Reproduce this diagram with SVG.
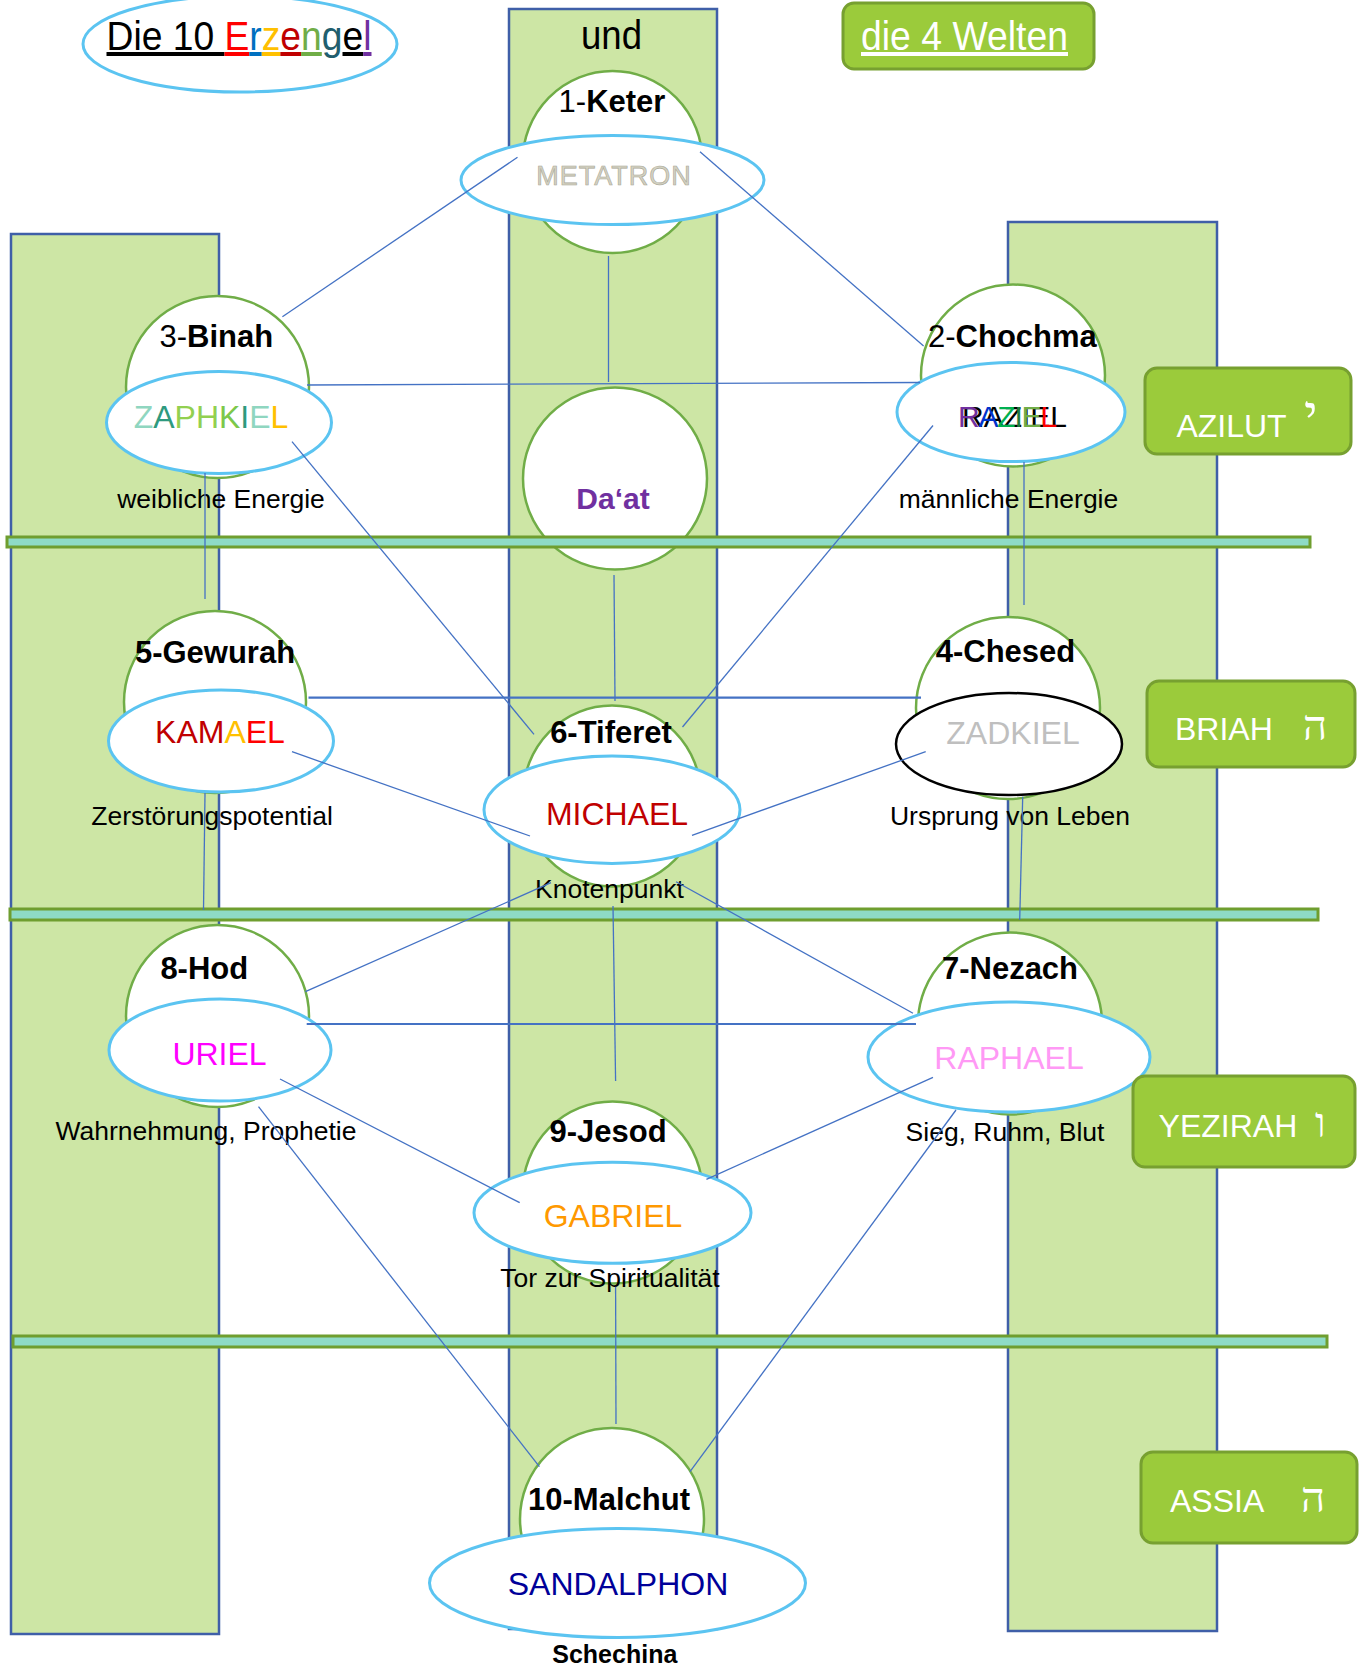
<svg xmlns="http://www.w3.org/2000/svg" width="1364" height="1669" viewBox="0 0 1364 1669">
<style>
text{font-family:"Liberation Sans",Arial,sans-serif}
.col{fill:#CDE6A5;stroke:#3F5FA8;stroke-width:2.5}
.bar{fill:#8EDBC6;stroke:#6F9E2F;stroke-width:3}
.sef{fill:#fff;stroke:#70AD47;stroke-width:2.5}
.ang{fill:#fff;stroke:#5BC4F1;stroke-width:3}
.world{fill:#9BCB3B;stroke:#77A030;stroke-width:3}
.wt{fill:#fff;font-size:32px}
.heb{fill:#fff;font-size:42px;font-family:"Liberation Serif","DejaVu Serif",serif}
.sn{font-size:31px;fill:#000;text-anchor:middle}
.b{font-weight:bold}
.an{font-size:32px;text-anchor:middle}
.d{font-size:26.5px;fill:#000;text-anchor:middle}
.ln{stroke:#4472C4;stroke-width:1.3;fill:none}
.lnt{stroke:#4472C4;stroke-width:2.2;fill:none}
</style>
<rect width="1364" height="1669" fill="#fff"/>

<g id="columns">
<rect class="col" x="11" y="234" width="208" height="1400"/>
<rect class="col" x="509" y="9" width="208" height="1620"/>
<rect class="col" x="1008" y="222" width="209" height="1409"/>
</g>

<g id="title">
<ellipse cx="240" cy="44" rx="157" ry="48" fill="#fff" stroke="#5BC4F1" stroke-width="3"/>
<text x="106.5" y="50" font-size="40" textLength="265" lengthAdjust="spacingAndGlyphs"><tspan fill="#000" text-decoration="underline">Die 10 </tspan><tspan fill="#FF0000" text-decoration="underline">E</tspan><tspan fill="#0070C0" text-decoration="underline">r</tspan><tspan fill="#FFC000" text-decoration="underline">z</tspan><tspan fill="#C00000" text-decoration="underline">e</tspan><tspan fill="#70AD47" text-decoration="underline">n</tspan><tspan fill="#215E6E" text-decoration="underline">g</tspan><tspan fill="#000" text-decoration="underline">e</tspan><tspan fill="#7030A0" text-decoration="underline">l</tspan></text>
</g>
<g id="und">
<text x="581" y="48.5" font-size="40" textLength="61" lengthAdjust="spacingAndGlyphs" fill="#000">und</text>
</g>
<g id="welten">
<rect class="world" x="843" y="3" width="251" height="66" rx="11"/>
<text x="861" y="50" font-size="40" textLength="207" lengthAdjust="spacingAndGlyphs" fill="#fff" text-decoration="underline">die 4 Welten</text>
</g>

<g id="keter">
<ellipse class="sef" cx="612.5" cy="162" rx="90" ry="91"/>
<text class="sn" x="612" y="111.7">1-<tspan class="b">Keter</tspan></text>
<ellipse class="ang" cx="612.5" cy="180" rx="151.5" ry="44.5"/>
<text x="614" y="185" font-size="27" text-anchor="middle" letter-spacing="1" fill="#D4D2C2" stroke="#A9A797" stroke-width="0.6">METATRON</text>
</g>

<g id="binah">
<ellipse class="sef" cx="217.5" cy="387" rx="91.5" ry="91"/>
<text class="sn" x="216.3" y="346.7">3-<tspan class="b">Binah</tspan></text>
<ellipse class="ang" cx="219" cy="422.5" rx="112.5" ry="51"/>
<text class="an" x="211" y="427.7"><tspan fill="#8FD6C0">Z</tspan><tspan fill="#2E9A7E">A</tspan><tspan fill="#92D050">P</tspan><tspan fill="#92D050">H</tspan><tspan fill="#7CC84A">K</tspan><tspan fill="#2E9A7E">I</tspan><tspan fill="#8FD6C0">E</tspan><tspan fill="#FFC000">L</tspan></text>
<text class="d" x="221" y="508">weibliche Energie</text>
</g>

<g id="chochma">
<ellipse class="sef" cx="1013" cy="375.5" rx="92" ry="91"/>
<text class="sn" x="1012.4" y="346.7">2-<tspan class="b">Chochma</tspan></text>
<ellipse class="ang" cx="1011" cy="412" rx="114" ry="49.5"/>
<text x="962" y="427" font-size="30" fill="#000">RAZIEL</text>
<text x="958" y="427" font-size="30" textLength="99" lengthAdjust="spacing"><tspan fill="#7030A0">R</tspan><tspan fill="#0033CC">A</tspan><tspan fill="#00B050">Z</tspan><tspan fill="#1E7A3C">I</tspan><tspan fill="#70AD47">E</tspan><tspan fill="#FF0000">L</tspan></text>
<text class="d" x="1008.5" y="508">männliche Energie</text>
</g>

<g id="daat">
<ellipse class="sef" cx="615" cy="478.5" rx="92" ry="91"/>
<text x="613" y="509.3" font-size="30" font-weight="bold" fill="#7030A0" text-anchor="middle">Da‘at</text>
</g>

<g id="gewurah">
<ellipse class="sef" cx="215" cy="702" rx="91" ry="91"/>
<text class="sn b" x="215" y="663.3">5-Gewurah</text>
<ellipse class="ang" cx="221" cy="741" rx="112.5" ry="51"/>
<text class="an" x="220" y="743.3" font-size="31.5"><tspan fill="#C00000">KAM</tspan><tspan fill="#FFC000">A</tspan><tspan fill="#FF0000">EL</tspan></text>
<text class="d" x="212" y="825">Zerstörungspotential</text>
</g>

<g id="tiferet">
<ellipse class="sef" cx="612" cy="796" rx="89" ry="90.5"/>
<text class="sn b" x="611" y="743.3">6-Tiferet</text>
<ellipse class="ang" cx="612" cy="809.7" rx="128" ry="53.7"/>
<text class="an" x="617" y="825" fill="#C00000">MICHAEL</text>
<text class="d" x="609.5" y="898">Knotenpunkt</text>
</g>

<g id="chesed">
<ellipse class="sef" cx="1008" cy="708" rx="92" ry="91"/>
<text class="sn b" x="1005.5" y="661.7">4-Chesed</text>
<ellipse cx="1009" cy="744" rx="113" ry="51" fill="#fff" stroke="#000" stroke-width="2.5"/>
<text class="an" x="1013" y="744.3" fill="#BFBFBF">ZADKIEL</text>
<text class="d" x="1010" y="825">Ursprung von Leben</text>
</g>

<g id="hod">
<ellipse class="sef" cx="217.5" cy="1016" rx="91.5" ry="91"/>
<text class="sn b" x="204.3" y="979.3">8-Hod</text>
<ellipse class="ang" cx="220" cy="1050" rx="111" ry="51"/>
<text class="an" x="219.5" y="1065" font-size="31.5" fill="#FF00FF">URIEL</text>
<text class="d" x="206" y="1140">Wahrnehmung, Prophetie</text>
</g>

<g id="nezach">
<ellipse class="sef" cx="1010" cy="1023.5" rx="92" ry="91"/>
<text class="sn b" x="1010" y="979.3">7-Nezach</text>
<ellipse class="ang" cx="1009" cy="1057" rx="141" ry="55"/>
<text class="an" x="1009" y="1069" font-size="31.7" fill="#FF99F5">RAPHAEL</text>
<text class="d" x="1005" y="1140.7">Sieg, Ruhm, Blut</text>
</g>

<g id="jesod">
<ellipse class="sef" cx="612.6" cy="1192.5" rx="90" ry="91"/>
<text class="sn b" x="608" y="1141.7">9-Jesod</text>
<ellipse class="ang" cx="612.5" cy="1212.8" rx="138.5" ry="50.5"/>
<text class="an" x="613" y="1227.3" fill="#FF9900">GABRIEL</text>
<text class="d" x="610" y="1286.7">Tor zur Spiritualität</text>
</g>

<g id="malchut">
<ellipse class="sef" cx="612" cy="1519" rx="92" ry="91"/>
<text class="sn b" x="609" y="1510">10-Malchut</text>
<ellipse class="ang" cx="617.5" cy="1583" rx="188" ry="54.5"/>
<text class="an" x="618" y="1595" fill="#000099">SANDALPHON</text>
<text x="614.8" y="1663" font-size="25" font-weight="bold" text-anchor="middle" fill="#000">Schechina</text>
</g>

<g id="bars">
<rect class="bar" x="7" y="537" width="1303" height="10"/>
<rect class="bar" x="10" y="909" width="1308" height="11"/>
<rect class="bar" x="13" y="1336" width="1314" height="11"/>
</g>

<g id="connectors">
<line class="ln" x1="517.5" y1="157.3" x2="282.4" y2="316.7"/>
<line class="ln" x1="700" y1="151.7" x2="923.6" y2="346"/>
<line class="ln" x1="608.5" y1="256" x2="608.5" y2="382"/>
<line class="ln" x1="307" y1="385" x2="920" y2="382.5"/>
<line class="ln" x1="292" y1="441.7" x2="534" y2="734.3"/>
<line class="ln" x1="933" y1="425.5" x2="682.5" y2="727"/>
<line class="ln" x1="205" y1="473" x2="205" y2="599"/>
<line class="ln" x1="1024" y1="462" x2="1024" y2="605"/>
<line class="ln" x1="614" y1="575" x2="615" y2="701"/>
<line class="lnt" x1="308.5" y1="697.7" x2="921" y2="697.7"/>
<line class="ln" x1="292" y1="751.7" x2="530" y2="836"/>
<line class="ln" x1="925.7" y1="751.7" x2="692" y2="835.3"/>
<line class="ln" x1="205" y1="793" x2="203.5" y2="910"/>
<line class="ln" x1="1022.7" y1="796.7" x2="1019.7" y2="920"/>
<line class="ln" x1="551" y1="882.7" x2="305.4" y2="991.7"/>
<line class="ln" x1="676" y1="881.7" x2="913" y2="1013.3"/>
<line class="lnt" x1="306.7" y1="1024" x2="916" y2="1024"/>
<line class="ln" x1="613" y1="906" x2="615.6" y2="1081"/>
<line class="ln" x1="280" y1="1079" x2="519.7" y2="1202.7"/>
<line class="ln" x1="933" y1="1077.3" x2="706.4" y2="1179.3"/>
<line class="ln" x1="258.5" y1="1106.7" x2="539.4" y2="1466.7"/>
<line class="ln" x1="956" y1="1110" x2="690" y2="1471.7"/>
<line class="ln" x1="615.6" y1="1286.7" x2="616" y2="1424"/>
</g>

<g id="azilut">
<rect class="world" x="1145" y="368" width="206" height="86" rx="12"/>
<text class="wt" x="1176.4" y="436.7">AZILUT</text>
<text class="heb" x="1304" y="432" font-size="52" style="font-size:52px">י</text>
</g>
<g id="briah">
<rect class="world" x="1147" y="681" width="208" height="86" rx="12"/>
<text class="wt" x="1175" y="740">BRIAH</text>
<text class="heb" x="1303" y="740">ה</text>
</g>
<g id="yezirah">
<rect class="world" x="1133" y="1076" width="222" height="91" rx="12"/>
<text class="wt" x="1158.6" y="1136.7">YEZIRAH</text>
<text class="heb" x="1315" y="1136.7">ו</text>
</g>
<g id="assia">
<rect class="world" x="1141" y="1452" width="216" height="91" rx="12"/>
<text class="wt" x="1170" y="1511.7">ASSIA</text>
<text class="heb" x="1301" y="1511.7">ה</text>
</g>
</svg>
